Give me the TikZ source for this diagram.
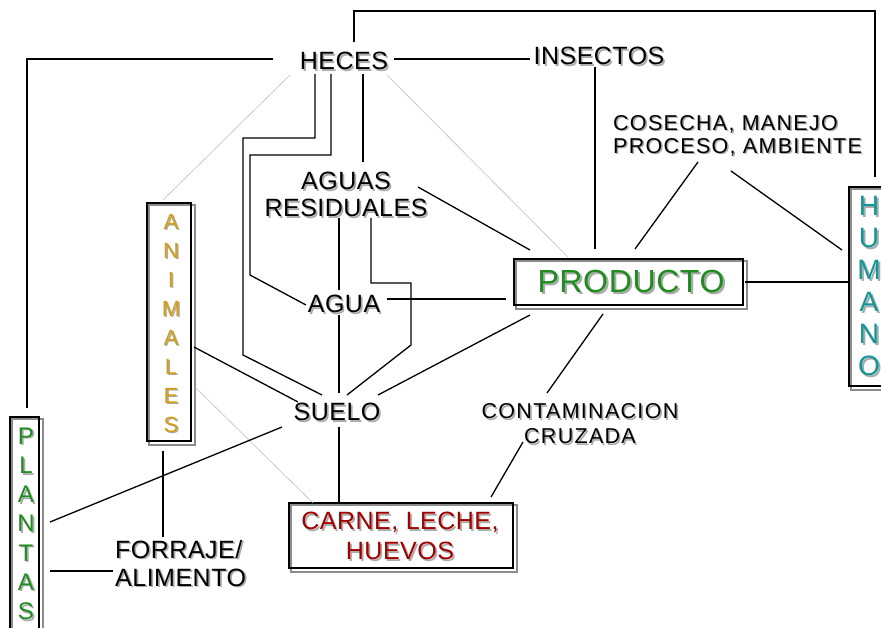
\documentclass[tikz,border=0pt]{standalone}
\usepackage{fontspec}
\setmainfont{Liberation Sans}[LetterSpace=2]
\definecolor{shgray}{RGB}{170,170,170}
\definecolor{boxgray}{RGB}{140,140,140}
\definecolor{thingray}{RGB}{190,190,190}
\definecolor{prodgreen}{RGB}{30,140,30}
\definecolor{animgold}{RGB}{212,158,20}
\definecolor{humteal}{RGB}{20,150,150}
\definecolor{carnered}{RGB}{160,0,0}
\newcommand\shd[2][black]{\makebox[0pt][l]{\kern0.07em\raisebox{-0.07em}{\textcolor{shgray}{#2}}}\textcolor{#1}{#2}}
\pgfdeclarelayer{bg}
\pgfsetlayers{bg,main}
\begin{document}
\begin{tikzpicture}[x=1pt,y=-1pt,
  ln/.style={line width=1.3pt},
  faint/.style={line width=0.6pt, draw=thingray},
  lbl/.style={inner sep=0pt, align=center, font=\fontsize{25}{27}\selectfont},
  small/.style={inner sep=0pt, font=\addfontfeature{LetterSpace=6}\fontsize{21.5}{23}\selectfont},
  box/.style={draw, rectangle, line width=2pt, inner sep=0pt},
  boxsh/.style={draw=boxgray, line width=1.5pt}]
\useasboundingbox (0,0) rectangle (881,627);
\clip (0,0) rectangle (881,627);

% boxes
\node[box, minimum width=229pt, minimum height=46pt] (producto) at (628.5,282) {};
\node[box, minimum width=56pt, minimum height=199pt] (humano) at (877,286.5) {};
\node[box, minimum width=44pt, minimum height=238pt] (animales) at (169,322) {};
\node[box, minimum width=29pt, minimum height=243pt] (plantas) at (24.5,538.5) {};
\node[box, minimum width=224pt, minimum height=65pt] (carne) at (401,535.5) {};
\begin{pgfonlayer}{bg}
\foreach \b in {producto,humano,animales,plantas,carne}
  \draw[boxsh] ([shift={(3,3)}]\b.north west) rectangle ([shift={(3,3)}]\b.south east);
\end{pgfonlayer}

% box texts
\node[inner sep=0pt, font=\fontsize{32}{34}\selectfont] (productotxt) at (631,282.5) {\shd[prodgreen]{PRODUCTO}};
\node[inner sep=0pt, align=center, font=\fontsize{28}{32}\selectfont] (humanotxt) at (869,287)
  {\shd[humteal]{H}\\\shd[humteal]{U}\\\shd[humteal]{M}\\\shd[humteal]{A}\\\shd[humteal]{N}\\\shd[humteal]{O}};
\node[inner sep=0pt, align=center, font=\fontsize{22}{29}\selectfont] (animalestxt) at (171,324)
  {\shd[animgold]{A}\\\shd[animgold]{N}\\\shd[animgold]{I}\\\shd[animgold]{M}\\\shd[animgold]{A}\\\shd[animgold]{L}\\\shd[animgold]{E}\\\shd[animgold]{S}};
\node[inner sep=0pt, align=center, font=\fontsize{24}{29.2}\selectfont] (plantastxt) at (26,524.5)
  {\shd[prodgreen]{P}\\\shd[prodgreen]{L}\\\shd[prodgreen]{A}\\\shd[prodgreen]{N}\\\shd[prodgreen]{T}\\\shd[prodgreen]{A}\\\shd[prodgreen]{S}};
\node[lbl, font=\fontsize{25}{30}\selectfont] (carnetxt) at (400,537) {\shd[carnered]{CARNE, LECHE,}\\\shd[carnered]{HUEVOS}};

% labels
\node[lbl] (heces) at (344,62) {\shd{HECES}};
\node[lbl] (insectos) at (599,57) {\shd{INSECTOS}};
\node[small, align=left, anchor=west] (cosecha) at (613,136.5) {\shd{COSECHA, MANEJO}\\\shd{PROCESO, AMBIENTE}};
\node[lbl] (aguas) at (346,195.5) {\shd{AGUAS}\\\shd{RESIDUALES}};
\node[lbl] (agua) at (344,305) {\shd{AGUA}};
\node[lbl] (suelo) at (337,413) {\shd{SUELO}};
\node[small, align=center, font=\addfontfeature{LetterSpace=6}\fontsize{21.5}{25}\selectfont] (contam) at (580,424.5) {\shd{CONTAMINACION}\\\shd{CRUZADA}};
\node[lbl, align=left, anchor=west, font=\fontsize{25}{28}\selectfont] (forraje) at (115,564) {\shd{FORRAJE/}\\\shd{ALIMENTO}};

% faint connectors
\draw[faint] (290,75) -- (163,200);
\draw[faint] (387,75) -- (568,257);
\draw[faint] (195,387) -- (313,503);

% connectors
\draw[ln] (273,59) -- (27,59) -- (27,408);
\draw[ln] (354,42) -- (354,11) -- (875,11) -- (875,177);
\draw[ln] (394,59) -- (530,59);
\draw[ln] (595,67) -- (595,249);
\draw[ln] (698,162) -- (635,249);
\draw[ln] (731,171) -- (842,250);
\draw[ln] (producto.east) ++(1,0) -- (humano.west |- producto.east);
\draw[ln] (363,74) -- (363,162);
\draw[ln] (315,74) -- (315,138) -- (243,138) -- (243,355) -- (322,395);
\draw[ln] (331,74) -- (331,155) -- (250,155) -- (250,275) -- (306,305);
\draw[ln] (418,187) -- (530,250);
\draw[ln] (339,218) -- (339,290);
\draw[ln] (371,218) -- (371,283) -- (411,283) -- (411,345) -- (347,395);
\draw[ln] (387,299) -- (506,299);
\draw[ln] (339,315) -- (339,393);
\draw[ln] (378,395) -- (530,315);
\draw[ln] (194,347) -- (298,402);
\draw[ln] (282,427) -- (50,522);
\draw[ln] (339,427) -- (carne.north -| 339,0);
\draw[ln] (603,314) -- (547,393);
\draw[ln] (523,442) -- (491,497);
\draw[ln] (163,451) -- (163,537);
\draw[ln] (50,571) -- (113,571);
\end{tikzpicture}
\end{document}
